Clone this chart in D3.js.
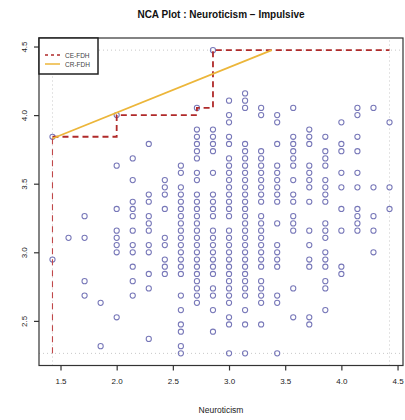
<!DOCTYPE html>
<html>
<head>
<meta charset="utf-8">
<script src="https://cdn.jsdelivr.net/npm/d3@7"></script>
<style>
  body { margin: 0; background: #fff; }
  svg { display: block; font-family: "Liberation Sans", Arial, sans-serif; }
</style>
</head>
<body>
<svg id="chart"></svg>
<script>
// Neuroticism scores (sum of 7 items) per column, and the Impulsive sum scores
// (19 items) found in each column.
var NEURO_ITEMS = 7, IMPULS_ITEMS = 19;
var neuroScores = [10, 11, 12, 13, 14, 15, 16, 17, 18, 19, 20, 21, 22, 23, 24, 25, 26, 27, 28, 29, 30, 31];
var impulsScores = [
    [73, 56],
    [59],
    [62, 59, 53, 51],
    [50, 44],
    [76, 69, 63, 60, 59, 58, 57, 48],
    [70, 67, 64, 63, 62, 60, 58, 57, 55, 53, 51],
    [72, 65, 64, 62, 61, 60, 58, 57, 54, 52, 45],
    [67, 66, 65, 63, 59, 58, 56, 55, 54],
    [69, 68, 66, 65, 64, 63, 62, 61, 60, 59, 58, 57, 56, 55, 54, 51, 49, 47, 46, 44, 43],
    [77, 74, 73, 72, 71, 70, 68, 67, 65, 64, 63, 62, 61, 60, 59, 58, 57, 56, 55, 54, 53, 52, 51, 50],
    [85, 74, 73, 72, 71, 68, 65, 64, 63, 62, 60, 59, 58, 57, 56, 55, 54, 52, 51, 49, 46],
    [78, 76, 75, 73, 72, 70, 69, 68, 67, 66, 65, 64, 63, 62, 60, 59, 58, 57, 56, 55, 54, 53, 52, 51, 50, 48, 47, 43],
    [79, 78, 77, 72, 71, 70, 69, 68, 67, 66, 65, 64, 63, 62, 61, 60, 59, 58, 57, 56, 55, 54, 53, 52, 51, 49, 47, 43],
    [77, 76, 71, 70, 69, 68, 67, 66, 65, 64, 62, 61, 60, 59, 58, 57, 56, 55, 53, 52, 51, 50, 47],
    [76, 75, 72, 69, 68, 67, 66, 65, 64, 61, 58, 57, 56, 55, 51, 50, 43],
    [77, 73, 72, 71, 70, 69, 67, 65, 64, 62, 61, 60, 52, 48],
    [74, 73, 72, 69, 68, 67, 66, 64, 60, 58, 56, 55, 48, 47],
    [73, 71, 70, 69, 67, 66, 65, 64, 61, 60, 59, 57, 56, 55, 53, 52, 49],
    [75, 72, 71, 68, 66, 63, 60, 55, 54],
    [77, 76, 73, 71, 68, 66, 63, 62, 61, 60],
    [77, 66, 62, 60, 57],
    [75, 66, 63]
];
// CE-FDH peers (neuroticism score, impulsive score)
var cePeersX = [10, 14, 19, 20];
var cePeersY = [73, 76, 77, 85];
// CR-FDH line
var crIntercept = 3.358, crSlope = 0.33;
var xTicks = [1.5, 2.0, 2.5, 3.0, 3.5, 4.0, 4.5];
var yTicks = [2.5, 3.0, 3.5, 4.0, 4.5];
var legendLabels = ["CE-FDH", "CR-FDH"];

var width = 405, height = 420;
var svg = d3.select('#chart').attr('width', width).attr('height', height);

var points = [];
neuroScores.forEach(function (n, i) {
    impulsScores[i].forEach(function (s) {
        points.push({x: n / NEURO_ITEMS, y: s / IMPULS_ITEMS});
    });
});
var xMin = d3.min(neuroScores) / NEURO_ITEMS, xMax = d3.max(neuroScores) / NEURO_ITEMS;
var yMin = d3.min(points, d => d.y), yMax = d3.max(points, d => d.y);
var xPad = (xMax - xMin) * 0.04, yPad = (yMax - yMin) * 0.04;

var x = d3.scaleLinear().domain([xMin - xPad, xMax + xPad]).range([39, 403]);
var y = d3.scaleLinear().domain([yMin - yPad, yMax + yPad]).range([365.5, 38]);

// scope lines
[xMin, xMax].forEach(function (v) {
    svg.append("line").attr("x1", x(v)).attr("x2", x(v)).attr("y1", y.range()[0]).attr("y2", y.range()[1])
        .attr("stroke", "#c8c8c8").attr("stroke-dasharray", "1,3");
});
[yMin, yMax].forEach(function (v) {
    svg.append("line").attr("y1", y(v)).attr("y2", y(v)).attr("x1", x.range()[0]).attr("x2", x.range()[1])
        .attr("stroke", "#c8c8c8").attr("stroke-dasharray", "1,3");
});

// points
svg.append("g").selectAll("circle")
    .data(points)
    .enter().append("circle")
    .attr("cx", d => x(d.x))
    .attr("cy", d => y(d.y))
    .attr("r", 2.6)
    .attr("fill", "none")
    .attr("stroke", "#7777b8")
    .attr("stroke-width", 1.05);

// CE-FDH step line
var ceSteps = [[xMin, cePeersY[0] / IMPULS_ITEMS]];
cePeersX.forEach(function (n, i) {
    var px = n / NEURO_ITEMS, py = cePeersY[i] / IMPULS_ITEMS;
    if (i > 0) ceSteps.push([px, ceSteps[ceSteps.length - 1][1]]);
    ceSteps.push([px, py]);
});
ceSteps.push([xMax, ceSteps[ceSteps.length - 1][1]]);
var ln = d3.line().x(d => x(d[0])).y(d => y(d[1]));
// lower vertical part looks thinner in the original
svg.append("path")
    .attr("d", ln([[xMin, yMin], [xMin, cePeersY[0] / IMPULS_ITEMS]]))
    .attr("fill", "none")
    .attr("stroke", "#c0484a")
    .attr("stroke-width", 1.1)
    .attr("stroke-dasharray", "6,5");
svg.append("path")
    .attr("d", ln(ceSteps))
    .attr("fill", "none")
    .attr("stroke", "#b02a2a")
    .attr("stroke-width", 1.8)
    .attr("stroke-dasharray", "6,4");

// CR-FDH line
var crEnd = (yMax - crIntercept) / crSlope;
svg.append("path")
    .attr("d", ln([[xMin, crIntercept + crSlope * xMin], [crEnd, yMax]]))
    .attr("fill", "none")
    .attr("stroke", "#ecb63a")
    .attr("stroke-width", 1.8);

// box
svg.append("rect")
    .attr("x", x.range()[0]).attr("y", y.range()[1])
    .attr("width", x.range()[1] - x.range()[0]).attr("height", y.range()[0] - y.range()[1])
    .attr("fill", "none").attr("stroke", "#333").attr("stroke-width", 1.2);

// axes
var xAxis = svg.append("g")
    .attr("transform", "translate(0," + y.range()[0] + ")")
    .call(d3.axisBottom(x).tickValues(xTicks).tickFormat(d3.format(".1f")).tickSize(5).tickPadding(8));
var yAxis = svg.append("g")
    .attr("transform", "translate(" + x.range()[0] + ",0)")
    .call(d3.axisLeft(y).tickValues(yTicks).tickFormat(d3.format(".1f")).tickSize(5));
[xAxis, yAxis].forEach(function (g) {
    g.select(".domain").remove();
    g.selectAll(".tick line").attr("stroke", "#333").attr("stroke-width", 1.2);
    g.selectAll("text").attr("font-size", 8).attr("fill", "#222")
        .attr("font-family", "'Liberation Sans', Arial, sans-serif");
});
yAxis.selectAll(".tick text")
    .attr("text-anchor", "middle")
    .attr("x", null).attr("dy", null)
    .attr("transform", "translate(-12,0) rotate(-90)");

// title & label
svg.append("text")
    .attr("x", (x.range()[0] + x.range()[1]) / 2).attr("y", 18)
    .attr("text-anchor", "middle").attr("font-size", 10).attr("font-weight", "bold")
    .attr("fill", "#111")
    .text("NCA Plot : Neuroticism \u2212 Impulsive");
svg.append("text")
    .attr("x", (x.range()[0] + x.range()[1]) / 2).attr("y", 413)
    .attr("text-anchor", "middle").attr("font-size", 8.5).attr("fill", "#222")
    .text("Neuroticism");

// legend
var lg = svg.append("g").attr("transform", "translate(" + x.range()[0] + "," + y.range()[1] + ")");
lg.append("rect").attr("width", 59).attr("height", 36)
    .attr("fill", "#fff").attr("stroke", "#222").attr("stroke-width", 1.5);
var legendStyles = [
    {stroke: "#b02a2a", dash: "3,3"},
    {stroke: "#ecb63a", dash: null}
];
legendLabels.forEach(function (lab, i) {
    var ly = 17 + i * 9;
    lg.append("line").attr("x1", 6).attr("x2", 21).attr("y1", ly).attr("y2", ly)
        .attr("stroke", legendStyles[i].stroke).attr("stroke-width", 1.5)
        .attr("stroke-dasharray", legendStyles[i].dash);
    lg.append("text").attr("x", 26).attr("y", ly + 2.5)
        .attr("font-size", 6.5).attr("fill", "#444").text(lab);
});
</script>
</body>
</html>
